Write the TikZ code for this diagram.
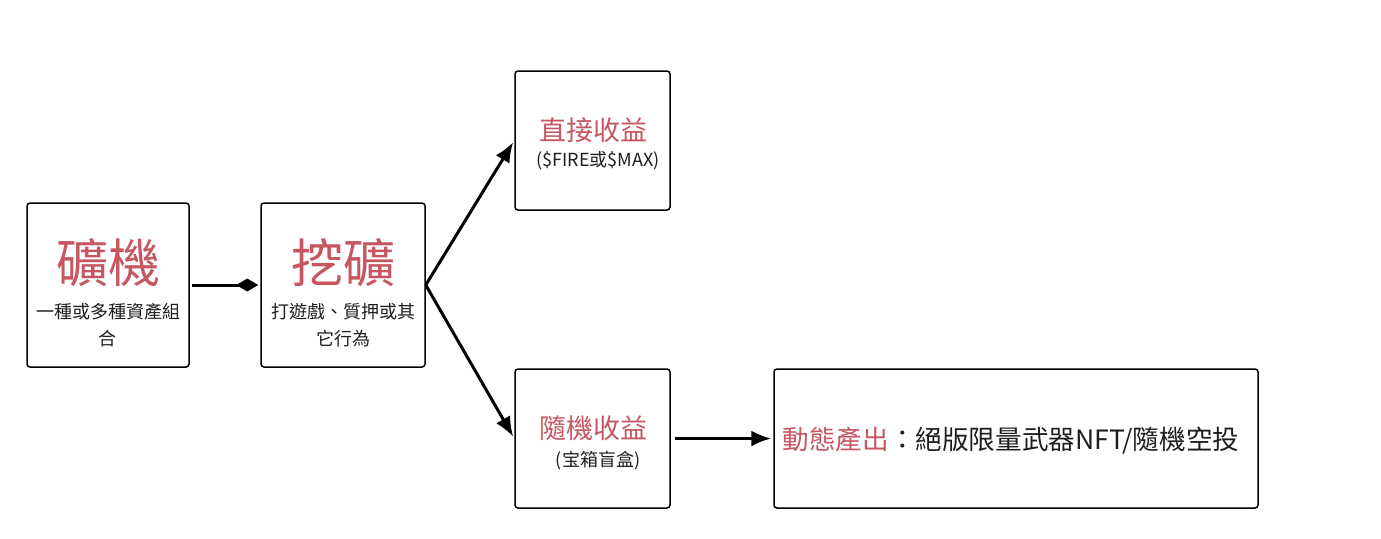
\documentclass[tikz,border=0pt]{standalone}
\usepackage{fontspec}
\setmainfont{Noto Sans CJK TC}
\usetikzlibrary{arrows.meta}
\definecolor{kuangrot}{RGB}{198,86,96}
\definecolor{schrift}{RGB}{30,30,30}

\begin{document}
\begin{tikzpicture}[x=0.5pt,y=-0.5pt,>={Latex[length=10pt,width=8pt]},
	kasten/.style={draw=black,line width=0.75pt,rounded corners=1.5pt,inner sep=0pt},
	titel/.style={inner sep=0pt,text=kuangrot,font=\fontsize{26}{30}\selectfont},
	mittel/.style={inner sep=0pt,text=kuangrot,font=\fontsize{13.5}{16}\selectfont},
	unter/.style={inner sep=0pt,text=schrift,align=center,font=\fontsize{9}{13.5}\selectfont},
	pfeil/.style={line width=1.5pt,shorten >=1pt}]
	\useasboundingbox (0,0) rectangle (1381,538);

	% Kästen
	\node[kasten,minimum width=81pt,minimum height=82pt] (kuangji) at (108,285) {};
	\node[kasten,minimum width=82pt,minimum height=82pt] (wakuang) at (343,285) {};
	\node[kasten,minimum width=77.5pt,minimum height=69.5pt] (direkt) at (592.5,140.5) {};
	\node[kasten,minimum width=77.5pt,minimum height=69.5pt] (zufall) at (592.5,438.5) {};
	\node[kasten,minimum width=242pt,minimum height=69.5pt] (ausgabe) at (1016,438.5) {};

	% Texte
	\node[titel] (kuangjiT) at (108,263) {礦機};
	\node[unter] (kuangjiU) at (108,325.5) {一種或多種資產組\\合};
	\node[titel] (wakuangT) at (343,263) {挖礦};
	\node[unter] (wakuangU) at (343,325.5) {打遊戲、質押或其\\它行為};
	\node[mittel] (direktT) at (593,130) {直接收益};
	\node[unter] (direktU) at (598,161) {(\$FIRE或\$MAX)};
	\node[mittel] (zufallT) at (593,428) {隨機收益};
	\node[unter] (zufallU) at (598,461) {(宝箱盲盒)};
	\node[inner sep=0pt,text=schrift,font=\fontsize{13.3}{16}\selectfont] (ausgabeT) at (1011,441)
		{\textcolor{kuangrot}{動態產出}：絕版限量武器NFT/隨機空投};

	% Pfeile
	\draw[pfeil,-{Diamond[length=11pt,width=6.5pt]}] (kuangji.east) ++(2,0) -- (wakuang.west);
	\draw[pfeil,->] (wakuang.east) -- (direkt.west);
	\draw[pfeil,->] (wakuang.east) -- (zufall.west);
	\draw[pfeil,->] (zufall.east) ++(4,0) -- (ausgabe.west);
\end{tikzpicture}
\end{document}
